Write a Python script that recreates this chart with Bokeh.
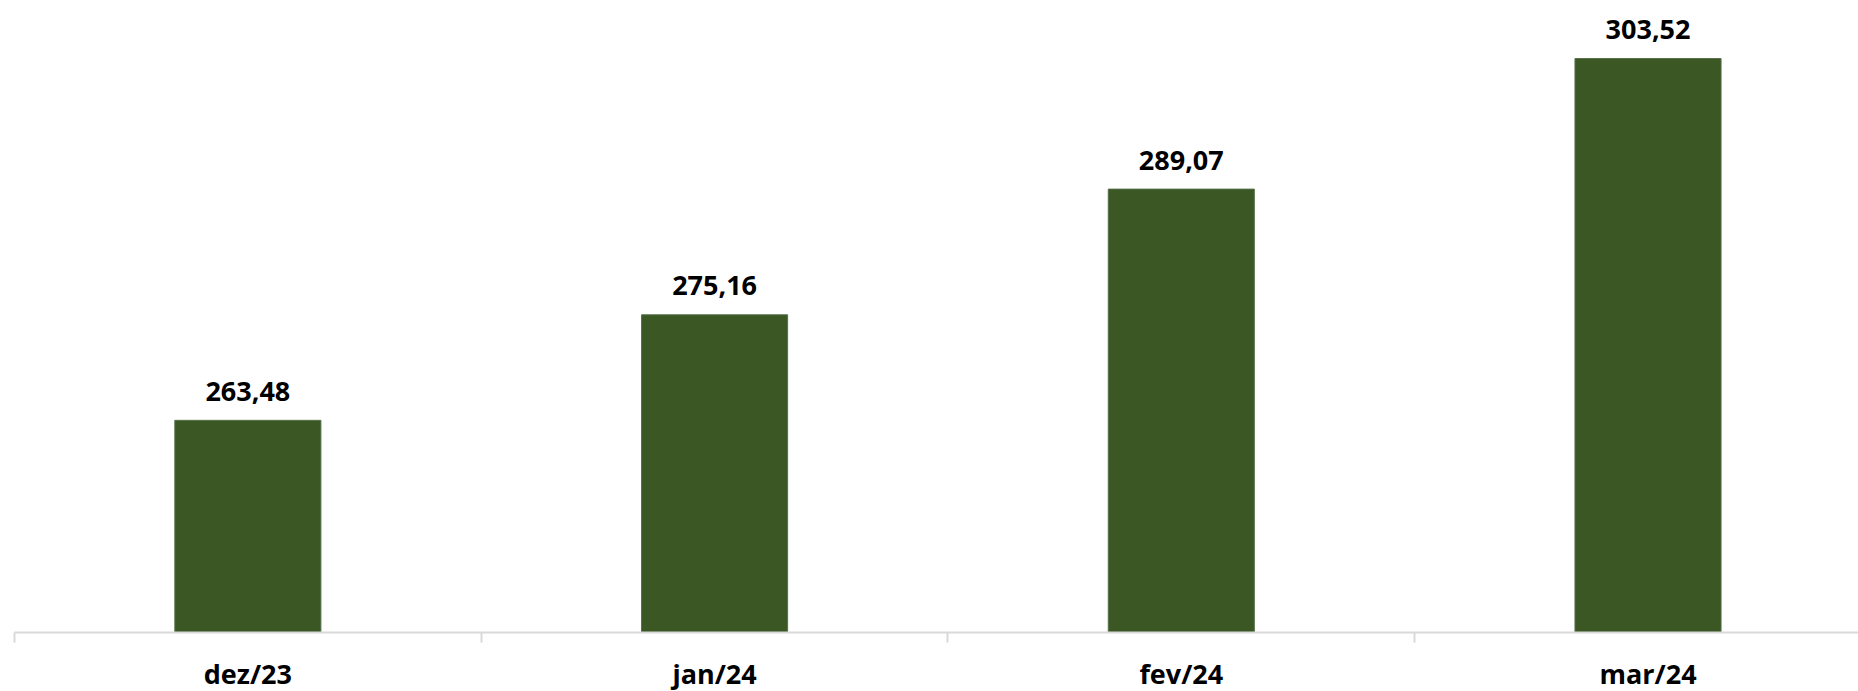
from bokeh.plotting import figure
from bokeh.models import Range1d, FixedTicker, ColumnDataSource
from bokeh.core.properties import value
from bokeh.embed import file_html
from bokeh.resources import INLINE

categories = ["dez/23", "jan/24", "fev/24", "mar/24"]
values = [263.48, 275.16, 289.07, 303.52]

labels = [f"{v:.2f}".replace(".", ",") for v in values]
xpos = [i + 0.5 for i in range(len(categories))]

src = ColumnDataSource(dict(x=xpos, top=values, label=labels))

p = figure(output_backend="svg", toolbar_location=None,
           frame_width=1844, frame_height=624,
           min_border_left=14, min_border_right=0, min_border_top=8, min_border_bottom=10,
           x_range=Range1d(0, 3.951), y_range=Range1d(240, 309.06))

p.vbar(x="x", top="top", bottom=240, width=0.313, source=src,
       fill_color="#3A5724", line_color="#56704A", line_width=1)

p.text(x="x", y="top", text="label", source=src, text_align="center",
       text_baseline="alphabetic", y_offset=-29,
       text_font=value("Open Sans"), text_font_style="bold", text_font_size="27px",
       text_color="black")

p.yaxis.visible = False
p.xgrid.visible = False
p.ygrid.visible = False
p.outline_line_color = None

ax = p.xaxis[0]
ax.ticker = FixedTicker(ticks=xpos, minor_ticks=[0, 1, 2, 3, 4])
ax.major_label_overrides = {x: c for x, c in zip(xpos, categories)}
ax.major_tick_line_color = None
ax.major_tick_out = 0
ax.major_tick_in = 0
ax.minor_tick_out = 10
ax.minor_tick_in = 0
ax.minor_tick_line_color = "#D9D9D9"
ax.minor_tick_line_width = 2
ax.axis_line_color = "#D9D9D9"
ax.axis_line_width = 2
ax.major_label_standoff = 12
ax.major_label_text_font = "Open Sans"
ax.major_label_text_font_style = "bold"
ax.major_label_text_font_size = "27px"
ax.major_label_text_color = "black"

open("out.html", "w").write(file_html(p, INLINE))
